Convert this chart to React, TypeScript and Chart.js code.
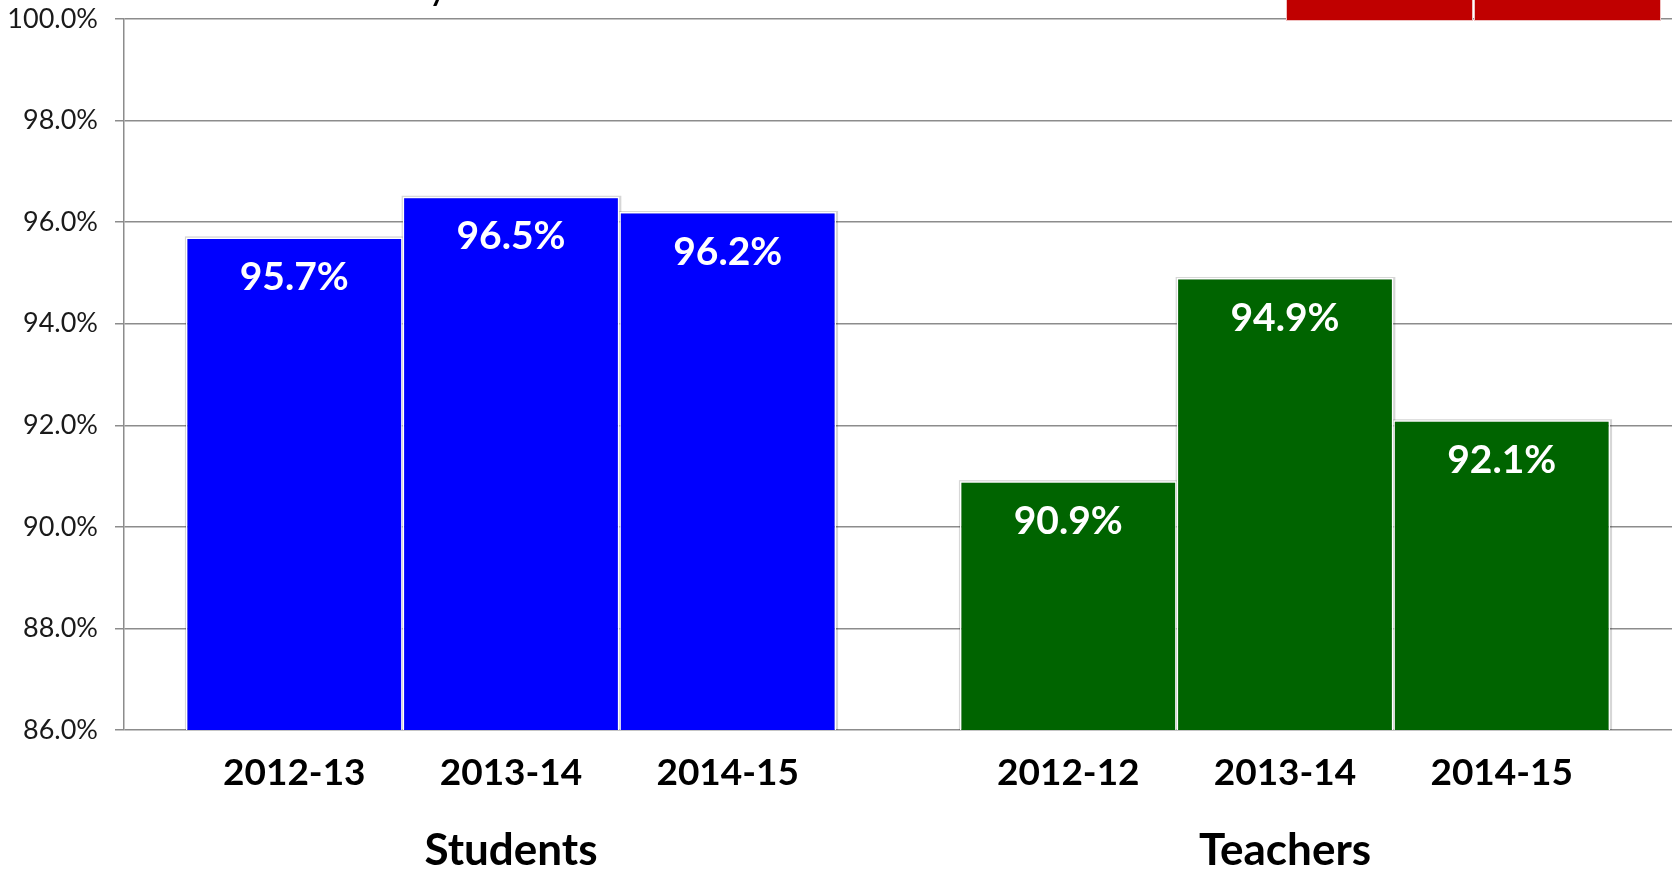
import React, { useEffect, useRef } from 'react';
import { Chart, registerables } from 'chart.js';
Chart.register(...registerables);

const groups = ['Students', 'Teachers'];
const studentYears = ['2012-13', '2013-14', '2014-15'];
const teacherYears = ['2012-12', '2013-14', '2014-15'];
const studentValues = [95.7, 96.5, 96.2];
const teacherValues = [90.9, 94.9, 92.1];
const groupColors = ['#0000ff', '#006400'];
const yTicks = [86, 88, 90, 92, 94, 96, 98, 100];

const yearLabels = [studentYears, teacherYears];

const barDecor = {
  id: 'barDecor',
  beforeDatasetsDraw(chart: any) {
    const ctx = chart.ctx;
    const bottom = chart.chartArea.bottom;
    ctx.save();
    ctx.fillStyle = 'rgba(0,0,0,0.16)';
    chart.data.datasets.forEach((_: any, di: number) => {
      const meta = chart.getDatasetMeta(di);
      meta.data.forEach((bar: any) => {
        const w = bar.width;
        ctx.fillRect(bar.x - w / 2 - 1, bar.y - 1, w + 3, bottom - bar.y + 1);
      });
    });
    ctx.restore();
  },
  afterDatasetsDraw(chart: any) {
    const ctx = chart.ctx;
    ctx.save();
    ctx.textAlign = 'center';
    ctx.textBaseline = 'middle';
    chart.data.datasets.forEach((ds: any, di: number) => {
      const meta = chart.getDatasetMeta(di);
      meta.data.forEach((bar: any, gi: number) => {
        const v = ds.data[gi];
        ctx.fillStyle = '#ffffff';
        ctx.font = 'bold 39px Lato';
        ctx.fillText(v.toFixed(1) + '%', bar.x, bar.y + 40);
        ctx.fillStyle = '#000000';
        ctx.font = 'bold 37px Lato';
        ctx.fillText(yearLabels[gi][di], bar.x, chart.chartArea.bottom + 43);
      });
    });
    ctx.restore();
  },
};

export default function App() {
  const ref = useRef<HTMLCanvasElement>(null);
  useEffect(() => {
    document.body.style.margin = '0';
    let chart: Chart | null = null;
    let cancelled = false;
    const make = () => {
      if (cancelled || !ref.current) return;
      chart = new Chart(ref.current, {
        type: 'bar',
        data: {
          labels: groups,
          datasets: [0, 1, 2].map((i) => ({
            label: studentYears[i],
            data: [studentValues[i], teacherValues[i]],
            backgroundColor: groupColors,
            borderColor: '#ffffff',
            borderWidth: 1.5,
            categoryPercentage: 0.84,
            barPercentage: 1,
          })),
        },
        options: {
          animation: false,
          responsive: false,
          maintainAspectRatio: false,
          layout: { padding: { top: 19, left: 0, right: 0, bottom: 0 } },
          plugins: { legend: { display: false }, tooltip: { enabled: false } },
          scales: {
            x: {
              grid: { display: false, drawTicks: false },
              border: { display: false },
              ticks: {
                font: { family: 'Lato', size: 44, weight: 'bold' },
                color: '#000000',
                padding: 94,
              },
              afterFit: (s: any) => {
                s.height = 140;
                s.paddingLeft = 0;
                s.paddingRight = 0;
              },
            },
            y: {
              min: 86,
              max: 100,
              afterBuildTicks: (s: any) => {
                s.ticks = yTicks.map((v) => ({ value: v }));
              },
              ticks: {
                callback: (v: any) => Number(v).toFixed(1) + '%',
                font: { family: 'Lato', size: 27 },
                color: '#1a1a1a',
                padding: 17,
              },
              grid: { color: '#8c8c8c', lineWidth: 1.5, tickLength: 9, drawTicks: true },
              border: { color: '#8c8c8c', width: 1.5 },
              afterFit: (s: any) => {
                s.width = 124;
                s.paddingTop = 0;
                s.paddingBottom = 0;
              },
            },
          },
        },
        plugins: [barDecor],
      });
    };
    Promise.all([
      document.fonts.load('bold 37px Lato'),
      document.fonts.load('27px Lato'),
    ]).then(make, make);
    return () => {
      cancelled = true;
      if (chart) chart.destroy();
    };
  }, []);

  return (
    <div style={{ position: 'relative', width: 1672, height: 870, background: '#ffffff', overflow: 'hidden' }}>
      <canvas ref={ref} width={1672} height={870} style={{ display: 'block' }} />
      <div style={{ position: 'absolute', left: 428, top: 0, width: 40, height: 8, overflow: 'hidden' }}>
        <div style={{ position: 'absolute', left: 0, top: -36, fontFamily: 'Lato', fontSize: 40, lineHeight: '40px', color: '#000' }}>y</div>
      </div>
      <div style={{ position: 'absolute', left: 1287, top: 0, width: 185, height: 20, background: '#c00000', boxShadow: '0 0 0 1px #f0c0c0' }} />
      <div style={{ position: 'absolute', left: 1475, top: 0, width: 185, height: 20, background: '#c00000', boxShadow: '0 0 0 1px #f0c0c0' }} />
    </div>
  );
}
